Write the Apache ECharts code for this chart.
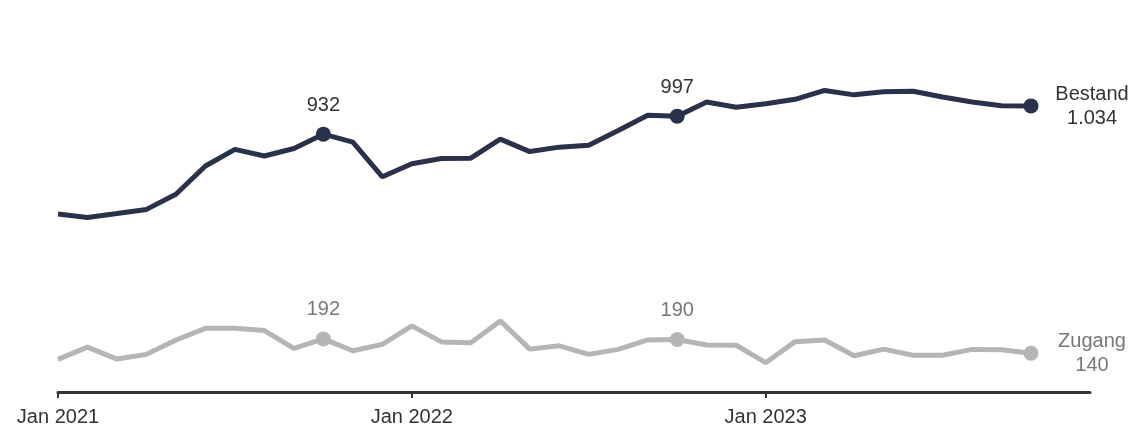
<!DOCTYPE html>
<html>
<head>
<meta charset="utf-8">
<script src="https://cdn.jsdelivr.net/npm/echarts@6/dist/echarts.min.js"></script>
<style>
html,body{margin:0;padding:0;background:#fff;}
#chart{width:1136px;height:439px;}
</style>
</head>
<body>
<div id="chart"></div>
<script>
const monthNames = ['Jan','Feb','Mär','Apr','Mai','Jun','Jul','Aug','Sep','Okt','Nov','Dez'];
const years = [2021, 2022, 2023];
const categories = [];
years.forEach(y => monthNames.forEach(m => categories.push(m + ' ' + y)));

const bestand = [643, 631, 645, 660, 715, 817, 877, 853, 880, 932, 903, 778,
                 825, 844, 845, 914, 869, 885, 892, 945, 1000, 997, 1048, 1029,
                 1042, 1058, 1090, 1074, 1085, 1087, 1066, 1048, 1035, 1034];
const zugang = [118, 162, 119, 136, 188, 230, 230, 222, 158, 192, 149, 172,
                239, 181, 178, 257, 155, 167, 136, 154, 188, 190, 170, 169,
                106, 182, 188, 131, 155, 133, 133, 154, 153, 140];
const highlighted = [9, 21];
const seriesNames = ['Bestand', 'Zugang'];

const FONT = '"Liberation Sans", Arial, sans-serif';
const fmt = v => v.toLocaleString('de-DE');

function buildData(values, name, textColor) {
  const last = values.length - 1;
  return values.map((v, i) => {
    if (highlighted.includes(i)) {
      return {
        value: v,
        symbolSize: 15,
        label: {
          show: true, position: [7.5, -21.5], align: 'center', verticalAlign: 'middle',
          formatter: () => fmt(v), color: textColor, fontSize: 20, fontFamily: FONT
        }
      };
    }
    if (i === last) {
      return {
        value: v,
        symbolSize: 15,
        label: {
          show: true, position: [68.5, 8], align: 'center', verticalAlign: 'middle',
          formatter: () => name + '\n' + fmt(v), color: textColor, fontSize: 20,
          lineHeight: 24, fontFamily: FONT
        }
      };
    }
    return { value: v, symbolSize: 0 };
  });
}

const chart = echarts.init(document.getElementById('chart'));
chart.setOption({
  animation: false,
  grid: { left: 58, right: 46, top: 60, bottom: 47 },
  xAxis: {
    type: 'category',
    data: categories,
    boundaryGap: false,
    axisLine: { lineStyle: { color: '#333', width: 3 } },
    axisTick: { show: true, length: 6, lineStyle: { color: '#333', width: 2 },
                interval: (i) => i % 12 === 0 },
    axisLabel: { interval: (i) => i % 12 === 0, color: '#333', fontSize: 20,
                 fontFamily: FONT, margin: 15 },
    splitLine: { show: false }
  },
  yAxis: { type: 'value', min: 0, max: 1200, show: false },
  series: [
    {
      name: seriesNames[0], type: 'line', data: buildData(bestand, seriesNames[0], '#333'),
      symbol: 'circle', showSymbol: true,
      lineStyle: { color: '#29324a', width: 5 },
      itemStyle: { color: '#29324a' }
    },
    {
      name: seriesNames[1], type: 'line', data: buildData(zugang, seriesNames[1], '#777'),
      symbol: 'circle', showSymbol: true,
      lineStyle: { color: '#b5b5b5', width: 5 },
      itemStyle: { color: '#b5b5b5' }
    }
  ]
});
</script>
</body>
</html>
